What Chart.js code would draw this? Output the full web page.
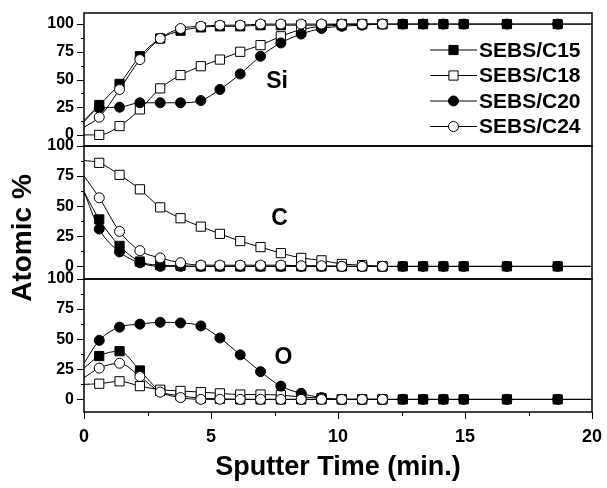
<!DOCTYPE html>
<html>
<head>
<meta charset="utf-8">
<script src="https://cdn.jsdelivr.net/npm/chart.js@4.4.1/dist/chart.umd.min.js"></script>
<style>
    body { margin: 0; background: #fff; }
</style>
</head>
<body>
<canvas id="depthChart" width="607" height="488"></canvas>
<script>
// sputter times (min.); first and last entries are where the curves meet the frame (no marker)
const sputterTime = [0, 0.6, 1.4, 2.2, 3.0, 3.8, 4.6, 5.35, 6.15, 6.95, 7.75, 8.55, 9.35, 10.15, 10.95, 11.75, 12.55, 13.35, 14.15, 14.95, 16.65, 18.65, 20];

const samples = ['SEBS/C15', 'SEBS/C18', 'SEBS/C20', 'SEBS/C24'];
const elements = ['Si', 'C', 'O'];

// Si atomic %
const siC15 = [13, 27, 46, 71, 87, 94, 97, 98, 98, 99, 99, 99, 99, 100, 100, 100, 100, 100, 100, 100, 100, 100, 100];
const siC18 = [0, 0, 8, 23, 42, 54, 62, 68, 75, 81, 89, 95, 98, 99, 100, 100, null, null, null, null, null, null, null];
const siC20 = [12, 24, 25, 29, 29, 29, 31, 41, 55, 71, 83, 91, 96, 98, 99, 100, 100, 100, 100, 100, 100, 100, 100];
const siC24 = [7, 16, 41, 68, 87, 96, 98, 99, 99, 100, 100, 100, 100, 100, 100, 100, null, null, null, null, null, null, null];

// C atomic %
const cC15 = [62, 39, 17, 4, 1, 0.5, 0, 0, 0, 0, 0, 0, 0, 0, 0, 0, 0, 0, 0, 0, 0, 0, 0];
const cC18 = [88, 86, 76, 64, 49, 40, 33, 27, 21, 16, 11, 7, 5, 2, 1, 0, null, null, null, null, null, null, null];
const cC20 = [62, 31, 12, 3, 0, 0, 0, 0, 0, 0, 0, 0, 0, 0, 0, 0, 0, 0, 0, 0, 0, 0, 0];
const cC24 = [75, 57, 29, 13, 7, 3, 1, 1, 1, 1, 1, 0.5, 0.5, 0, 0, 0, null, null, null, null, null, null, null];

// O atomic %
const oC15 = [26, 36, 40, 24, 7, 3, 1, 0.5, 0, 0, 0, 0, 0, 0, 0, 0, 0, 0, 0, 0, 0, 0, 0];
const oC18 = [12.5, 13, 15, 11, 8, 7, 6, 5, 4, 4, 3.5, 2, 1, 0, 0, 0, null, null, null, null, null, null, null];
const oC20 = [30, 49, 60, 62.5, 64, 63.5, 61, 51, 37, 23, 11, 5, 1.5, 0, 0, 0, 0, 0, 0, 0, 0, 0, 0];
const oC24 = [18, 26, 30, 19, 6, 1.5, 0, 0, 0, 0, 0, 0, 0, 0, 0, 0, null, null, null, null, null, null, null];

const yTicks = [0, 25, 50, 75, 100];
const xTicks = [0, 5, 10, 15, 20];

const FONT = "'Liberation Sans', Arial, sans-serif";

const markerStyles = [
    { pointStyle: 'rect', fill: '#000', radius: 6.5, order: 3 },
    { pointStyle: 'rect', fill: '#fff', radius: 6.5, order: 2 },
    { pointStyle: 'circle', fill: '#000', radius: 5, order: 1 },
    { pointStyle: 'circle', fill: '#fff', radius: 5, order: 0 },
];

const panels = [
    { axis: 'ySi', series: [siC15, siC18, siC20, siC24] },
    { axis: 'yC', series: [cC15, cC18, cC20, cC24] },
    { axis: 'yO', series: [oC15, oC18, oC20, oC24] },
];

const datasets = [];
panels.forEach(function (panel) {
    panel.series.forEach(function (values, i) {
        const st = markerStyles[i];
        datasets.push({
            label: samples[i],
            yAxisID: panel.axis,
            data: sputterTime.map((t, k) => ({ x: t, y: values[k] })),
            borderColor: '#000',
            borderWidth: 1,
            backgroundColor: st.fill,
            pointBackgroundColor: st.fill,
            pointBorderColor: '#000',
            pointBorderWidth: 1,
            pointStyle: st.pointStyle,
            pointRadius: ctx => (ctx.dataIndex === 0 || ctx.dataIndex === sputterTime.length - 1) ? 0 : st.radius,
            cubicInterpolationMode: 'monotone',
            spanGaps: false,
            order: st.order,
        });
    });
});

function noPadding(scale) {
    scale.paddingTop = 0;
    scale.paddingBottom = 0;
    scale.paddingLeft = 0;
    scale.paddingRight = 0;
}

function yAxis(min, max) {
    return {
        type: 'linear',
        position: 'left',
        stack: 'atomic',
        stackWeight: 1,
        min: min,
        max: max,
        grid: { display: false, drawTicks: false },
        border: { display: false },
        ticks: {
            color: '#000',
            padding: 10,
            autoSkip: false,
            font: { family: FONT, size: 16, weight: 'bold' },
        },
        afterBuildTicks: scale => { scale.ticks = yTicks.map(v => ({ value: v })); },
        afterFit: scale => { scale.width = 84; noPadding(scale); },
    };
}

// where the element names sit, in data units of each panel
const labelPos = [[7.6, 48], [7.7, 40], [7.85, 35]];

// frame boxes, tick marks, panel labels, legend, y title
const decorations = {
    id: 'decorations',
    afterDraw(chart) {
        const ctx = chart.ctx;
        const area = chart.chartArea;
        const xs = chart.scales.x;
        ctx.save();
        ctx.strokeStyle = '#000';
        ctx.fillStyle = '#000';

        ['ySi', 'yC', 'yO'].forEach(function (id, p) {
            const s = chart.scales[id];
            ctx.lineWidth = 1.5;
            ctx.strokeRect(area.left, s.top, area.right - area.left, s.bottom - s.top);
            ctx.lineWidth = 1;
            for (let v = 0; v <= 100; v += 12.5) {
                const py = Math.round(s.getPixelForValue(v)) + 0.5;
                const len = v % 25 === 0 ? 7 : 3;
                ctx.beginPath();
                ctx.moveTo(area.left - len, py);
                ctx.lineTo(area.left, py);
                ctx.stroke();
            }
            const pos = labelPos[p];
            ctx.font = 'bold 23px ' + FONT;
            ctx.textAlign = 'center';
            ctx.textBaseline = 'middle';
            ctx.fillText(elements[p], xs.getPixelForValue(pos[0]), s.getPixelForValue(pos[1]));
        });

        ctx.lineWidth = 1;
        for (let v = 0; v <= 20; v += 2.5) {
            const px = Math.round(xs.getPixelForValue(v)) + 0.5;
            const len = v % 5 === 0 ? 7 : 4;
            ctx.beginPath();
            ctx.moveTo(px, area.bottom);
            ctx.lineTo(px, area.bottom + len);
            ctx.stroke();
        }

        // legend in the Si panel
        const top = chart.scales.ySi.top;
        ctx.font = 'bold 21px ' + FONT;
        ctx.textAlign = 'left';
        ctx.textBaseline = 'middle';
        samples.forEach(function (name, i) {
            const ry = top + 37 + i * 25.5;
            const st = markerStyles[i];
            ctx.beginPath();
            ctx.moveTo(area.right - 162, ry);
            ctx.lineTo(area.right - 115, ry);
            ctx.stroke();
            ctx.fillStyle = st.fill;
            Chart.helpers.drawPoint(ctx, { pointStyle: st.pointStyle, radius: st.radius, rotation: 0, borderWidth: 1 }, area.right - 138.5, ry);
            ctx.fillStyle = '#000';
            ctx.fillText(name, area.right - 113, ry + 1);
        });

        ctx.translate(23, 238);
        ctx.rotate(-Math.PI / 2);
        ctx.font = 'bold 28px ' + FONT;
        ctx.textAlign = 'center';
        ctx.textBaseline = 'middle';
        ctx.fillText('Atomic %', 0, 0);
        ctx.restore();
    }
};

new Chart(document.getElementById('depthChart').getContext('2d'), {
    type: 'line',
    data: { datasets: datasets },
    options: {
        responsive: false,
        animation: false,
        layout: { padding: { top: 13, right: 15, left: 0, bottom: 0 } },
        plugins: { legend: { display: false }, tooltip: { enabled: false } },
        scales: {
            x: {
                type: 'linear',
                min: 0,
                max: 20,
                grid: { display: false, drawTicks: false },
                border: { display: false },
                ticks: {
                    color: '#000',
                    padding: 14,
                    font: { family: FONT, size: 18, weight: 'bold' },
                },
                afterBuildTicks: scale => { scale.ticks = xTicks.map(v => ({ value: v })); },
                afterFit: scale => { scale.height = 76; noPadding(scale); },
                title: {
                    display: true,
                    text: 'Sputter Time (min.)',
                    color: '#000',
                    padding: { top: 0, bottom: 4 },
                    font: { family: FONT, size: 27, weight: 'bold' },
                },
            },
            // stacked axes are laid out bottom-up in definition order
            yO: yAxis(-10.5, 100),
            yC: yAxis(-10.5, 100),
            ySi: yAxis(-10, 110),
        },
    },
    plugins: [decorations],
});
</script>
</body>
</html>
